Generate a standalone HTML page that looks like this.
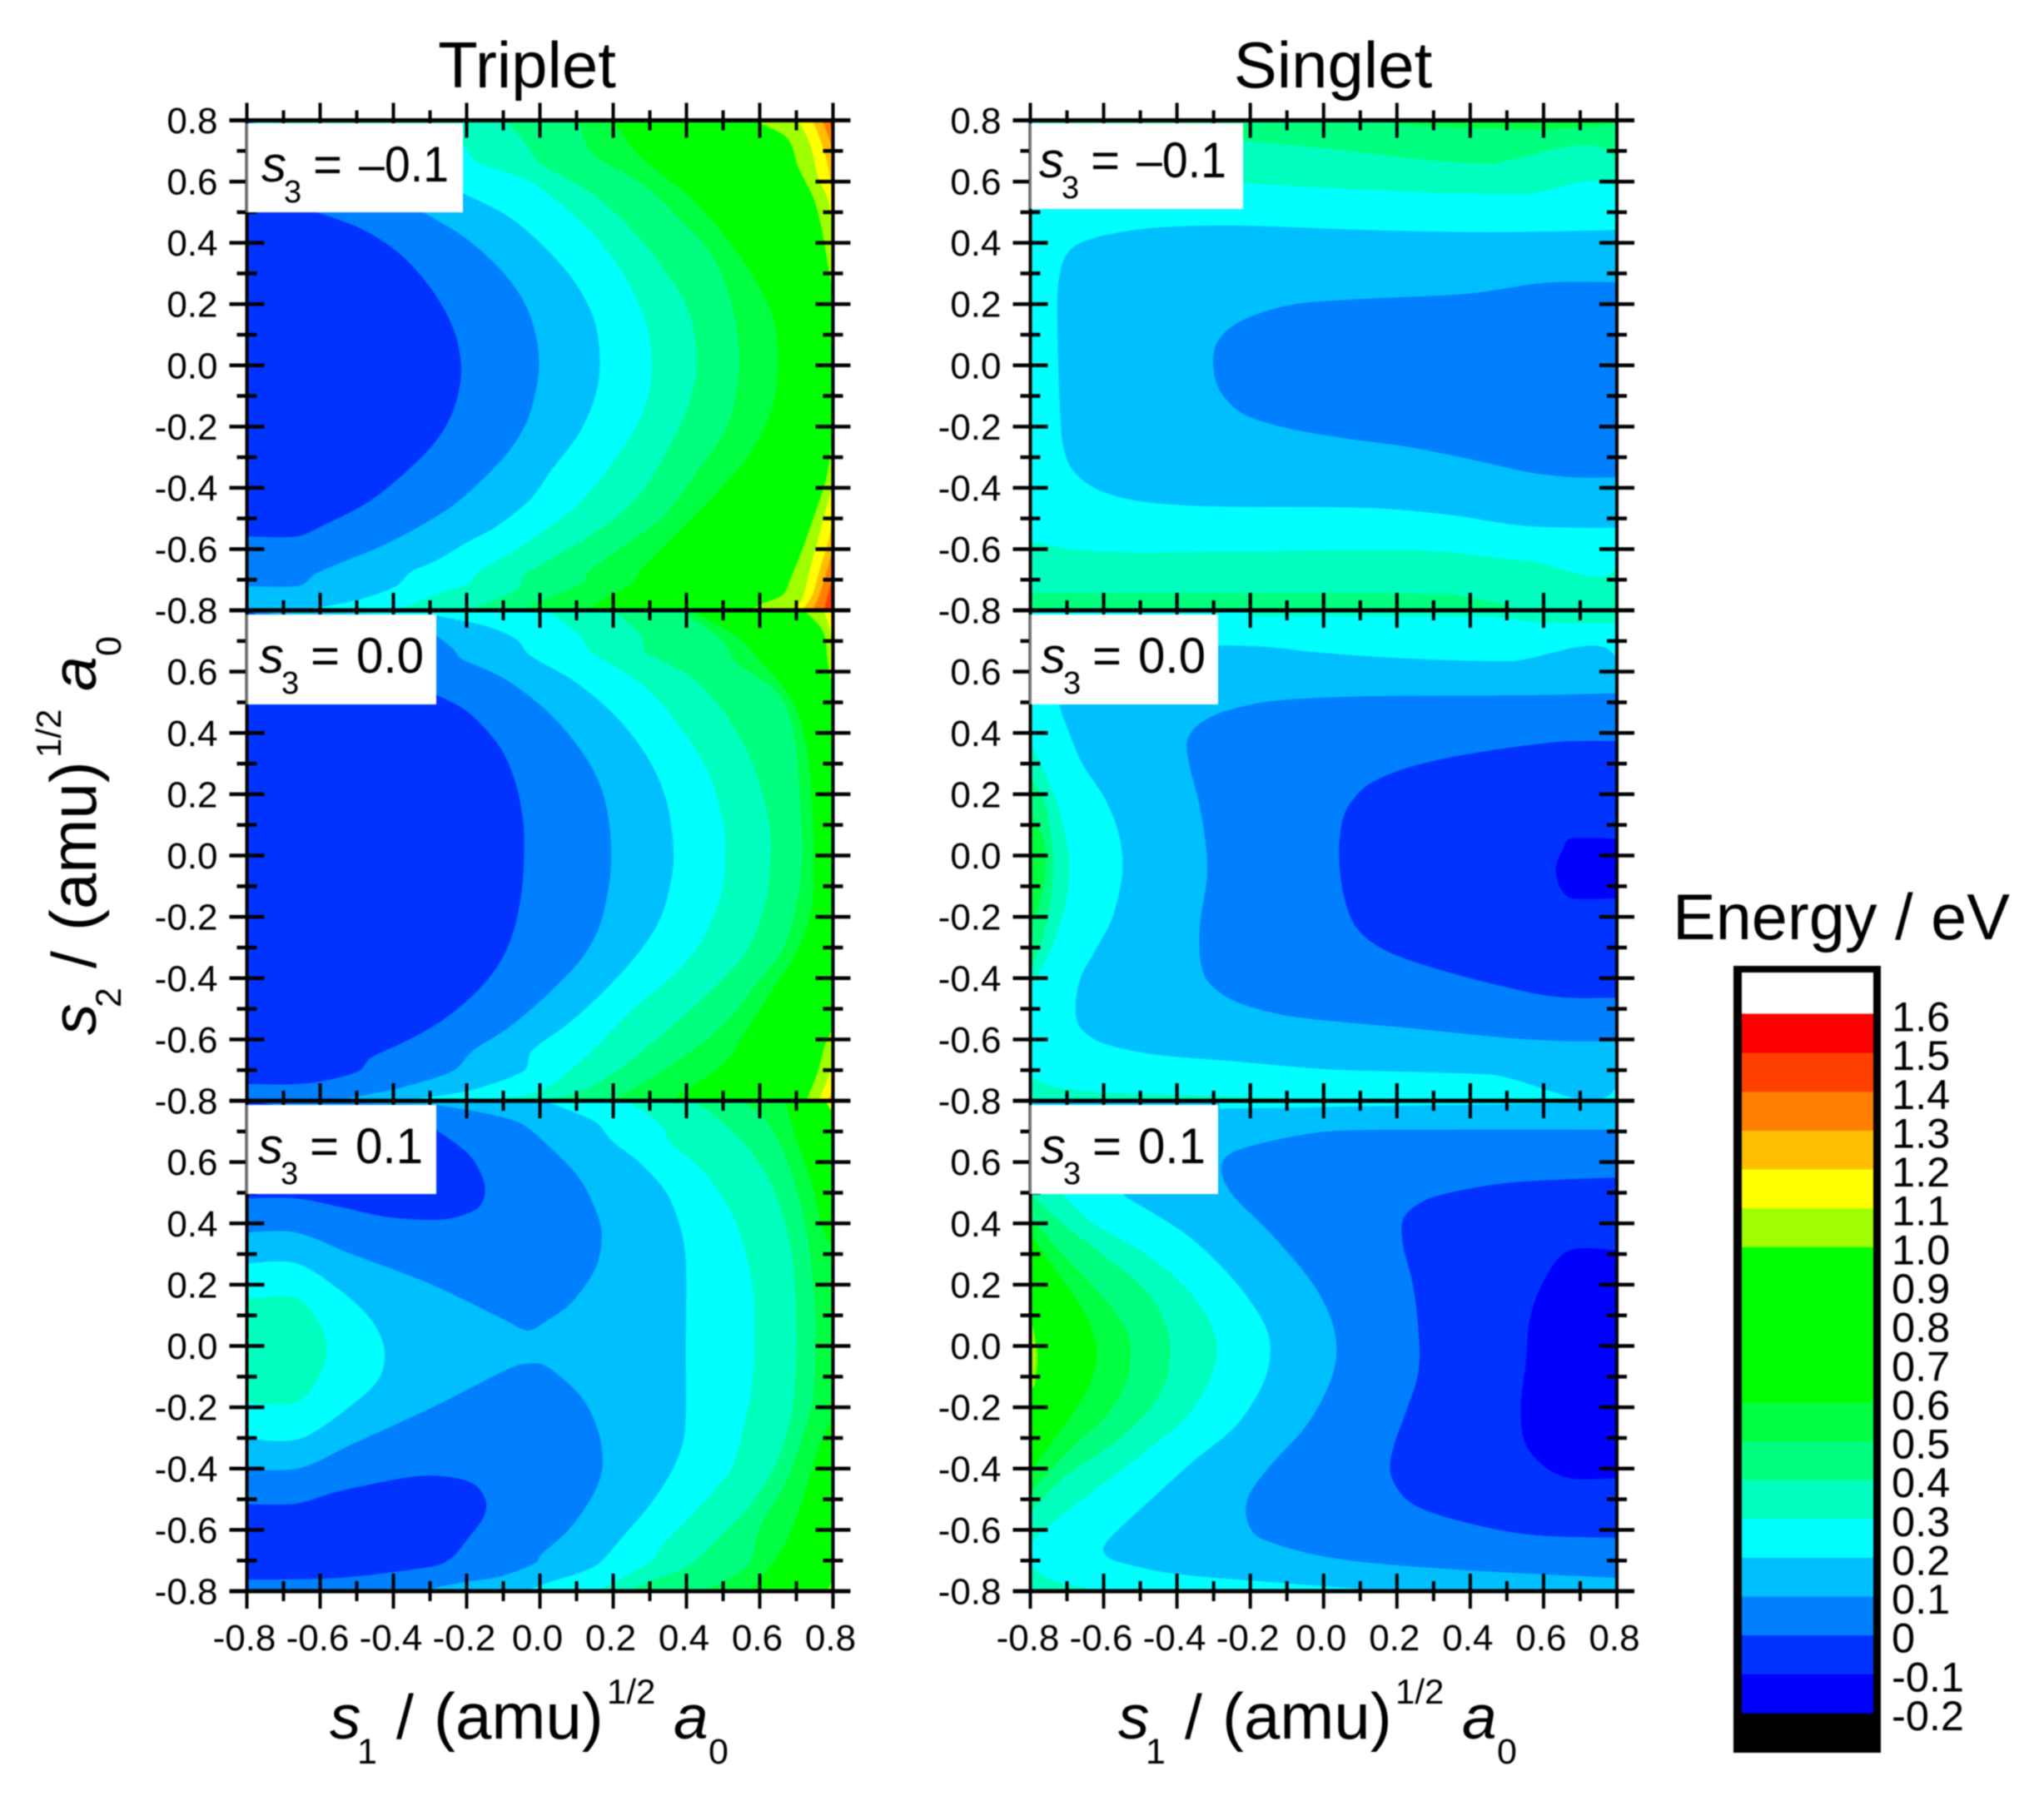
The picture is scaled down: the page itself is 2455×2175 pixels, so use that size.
<!DOCTYPE html>
<html lang="en">
<head>
<meta charset="utf-8">
<title>Triplet and Singlet energy contours</title>
<style>
html,body{margin:0;padding:0;background:#fff;}
svg{display:block;font-family:"Liberation Sans",sans-serif;filter:blur(0.7px);}
</style>
</head>
<body>
<svg id="figure" xmlns="http://www.w3.org/2000/svg" width="2455" height="2175" viewBox="0 0 2455 2175">
  <rect x="0" y="0" width="2455" height="2175" fill="#fff"/>
  <g id="panels"></g>
  <text x="633" y="105" font-size="78" text-anchor="middle">Triplet</text>
  <text x="1601" y="105" font-size="78" text-anchor="middle">Singlet</text>

  <g transform="translate(396,2088)">
    <text font-size="75"><tspan font-style="italic" x="0" y="0">s</tspan><tspan font-size="43" x="33" y="30">1</tspan><tspan x="80" y="0">/</tspan><tspan font-size="78" x="125" y="0">(amu)</tspan><tspan font-size="42" x="333" y="-42">1/2</tspan><tspan font-style="italic" x="413" y="0">a</tspan><tspan font-size="43" x="455" y="30">0</tspan></text>
  </g>
  <g transform="translate(1343,2088)">
    <text font-size="75"><tspan font-style="italic" x="0" y="0">s</tspan><tspan font-size="43" x="33" y="30">1</tspan><tspan x="80" y="0">/</tspan><tspan font-size="78" x="125" y="0">(amu)</tspan><tspan font-size="42" x="333" y="-42">1/2</tspan><tspan font-style="italic" x="413" y="0">a</tspan><tspan font-size="43" x="455" y="30">0</tspan></text>
  </g>
  <g transform="translate(115,1243) rotate(-90)">
    <text font-size="75"><tspan font-style="italic" x="0" y="0">s</tspan><tspan font-size="43" x="33" y="30">2</tspan><tspan x="80" y="0">/</tspan><tspan font-size="78" x="125" y="0">(amu)</tspan><tspan font-size="42" x="333" y="-42">1/2</tspan><tspan font-style="italic" x="413" y="0">a</tspan><tspan font-size="43" x="455" y="30">0</tspan></text>
  </g>

  <text x="2009" y="1128" font-size="77.5">Energy / eV</text>
  <g id="colorbar"></g>
</svg>

<script>
/* ---------- colour scale (lower bound of each energy band, eV) ---------- */
const bandLevels = [-0.2,-0.1,0,0.1,0.2,0.3,0.4,0.5,0.6,0.7,0.8,0.9,1.0,1.1,1.2,1.3,1.4,1.5];
const bandColors = ['#0000ff','#0033ff','#007fff','#00bfff','#00ffff','#00ffbf','#00ff7f','#00ff40','#00ff00','#00ff00','#00ff00','#00ff00','#9fff00','#ffff00','#ffbf00','#ff7f00','#ff4000','#ff0000'];
const colorbarTickValues = [1.6,1.5,1.4,1.3,1.2,1.1,1.0,0.9,0.8,0.7,0.6,0.5,0.4,0.3,0.2,0.1,0,-0.1,-0.2];
const colorbarTickLabels = ['1.6','1.5','1.4','1.3','1.2','1.1','1.0','0.9','0.8','0.7','0.6','0.5','0.4','0.3','0.2','0.1','0','-0.1','-0.2'];

/* ---------- axis ticks ---------- */
const majorTicks = [-0.8,-0.6,-0.4,-0.2,0,0.2,0.4,0.6,0.8];
const minorTicks = [-0.7,-0.5,-0.3,-0.1,0.1,0.3,0.5,0.7];
const LEFT = [[-0.8,-0.8],[-0.8,0.8]];
const TL = [[-0.8,0.8]];
const TR = [[0.8,0.8]];
const BR = [[0.8,-0.8]];
const BL = [[-0.8,-0.8]];

/* ---------- contour regions in data units (s1, s2); painted in order ---------- */
const tripletMinus = [
 {band:0.5,curve:[[0.2,0.8],[0.267,0.69],[0.427,0.529],[0.545,0.357],[0.631,0.174],[0.65,0.002],[0.631,-0.148],[0.567,-0.299],[0.481,-0.417],[0.374,-0.546],[0.276,-0.665],[0.253,-0.71],[0.185,-0.756],[0.124,-0.8]],close:LEFT},
 {band:0.4,curve:[[0.106,0.8],[0.143,0.69],[0.277,0.594],[0.374,0.486],[0.47,0.357],[0.524,0.196],[0.543,0.002],[0.513,-0.191],[0.438,-0.331],[0.336,-0.493],[0.223,-0.593],[0.132,-0.674],[0.117,-0.71],[-0.005,-0.774],[-0.042,-0.8]],close:LEFT},
 {band:0.3,curve:[[-0.098,0.8],[-0.039,0.723],[-0.001,0.658],[0.127,0.572],[0.234,0.465],[0.331,0.325],[0.406,0.174],[0.427,0.002],[0.406,-0.127],[0.352,-0.267],[0.261,-0.438],[0.147,-0.547],[0.033,-0.629],[-0.042,-0.683],[-0.06,-0.728],[-0.194,-0.8]],close:LEFT},
 {band:0.2,curve:[[-0.21,0.723],[-0.173,0.663],[-0.034,0.604],[0.052,0.529],[0.149,0.422],[0.234,0.282],[0.288,0.142],[0.304,0.002],[0.288,-0.127],[0.234,-0.256],[0.117,-0.438],[0.033,-0.52],[-0.08,-0.61],[-0.171,-0.674],[-0.194,-0.71],[-0.285,-0.747],[-0.391,-0.8]],close:LEFT},
 {band:0.1,curve:[[-0.21,0.561],[-0.087,0.486],[0.009,0.389],[0.095,0.271],[0.149,0.142],[0.163,0.002],[0.149,-0.105],[0.106,-0.223],[0.031,-0.342],[-0.027,-0.438],[-0.118,-0.525],[-0.194,-0.574],[-0.285,-0.638],[-0.353,-0.674],[-0.391,-0.719],[-0.482,-0.76],[-0.592,-0.787],[-0.671,-0.796],[-0.8,-0.8]],close:TL},
 {band:0,curve:[[-0.323,0.502],[-0.205,0.416],[-0.109,0.314],[-0.044,0.207],[-0.012,0.099],[-0.003,0.002],[-0.012,-0.084],[-0.039,-0.191],[-0.098,-0.299],[-0.217,-0.438],[-0.308,-0.511],[-0.421,-0.583],[-0.512,-0.629],[-0.611,-0.679],[-0.656,-0.719],[-0.8,-0.721]],close:TL},
 {band:-0.1,curve:[[-0.618,0.502],[-0.484,0.443],[-0.377,0.357],[-0.291,0.239],[-0.237,0.12],[-0.216,0.002],[-0.226,-0.105],[-0.259,-0.202],[-0.323,-0.299],[-0.459,-0.438],[-0.595,-0.524],[-0.664,-0.558],[-0.8,-0.558]],close:TL},
 {band:1.0,curve:[[0.58,0.8],[0.674,0.744],[0.706,0.647],[0.749,0.54],[0.77,0.443],[0.787,0.325],[0.8,0.239]],close:TR},
 {band:1.0,curve:[[0.8,-0.234],[0.781,-0.374],[0.749,-0.492],[0.717,-0.6],[0.685,-0.696],[0.663,-0.75],[0.599,-0.782],[0.578,-0.8]],close:BR},
 {band:1.1,curve:[[0.705,0.8],[0.738,0.723],[0.76,0.615],[0.787,0.54],[0.8,0.432]],close:TR},
 {band:1.1,curve:[[0.8,-0.396],[0.781,-0.471],[0.76,-0.567],[0.738,-0.664],[0.717,-0.761],[0.69,-0.8]],close:BR},
 {band:1.2,curve:[[0.745,0.8],[0.77,0.723],[0.787,0.647],[0.8,0.54]],close:TR},
 {band:1.2,curve:[[0.8,-0.503],[0.787,-0.578],[0.765,-0.664],[0.744,-0.75],[0.717,-0.8]],close:BR},
 {band:1.3,curve:[[0.77,0.8],[0.792,0.733],[0.8,0.65]],close:TR},
 {band:1.3,curve:[[0.8,-0.6],[0.781,-0.685],[0.76,-0.76],[0.744,-0.8]],close:BR},
 {band:1.4,curve:[[0.79,0.8],[0.8,0.75]],close:TR},
 {band:1.4,curve:[[0.8,-0.69],[0.787,-0.75],[0.775,-0.8]],close:BR}
];

const tripletZero = [
 {band:0.5,curve:[[0.41,0.8],[0.535,0.717],[0.588,0.653],[0.685,0.513],[0.728,0.352],[0.744,0.137],[0.747,-0.003],[0.739,-0.186],[0.695,-0.326],[0.631,-0.444],[0.556,-0.584],[0.502,-0.68],[0.395,-0.766],[0.363,-0.8]],close:LEFT},
 {band:0.4,curve:[[0.385,0.8],[0.502,0.695],[0.534,0.631],[0.652,0.524],[0.695,0.384],[0.711,0.137],[0.715,-0.003],[0.701,-0.154],[0.663,-0.304],[0.588,-0.422],[0.502,-0.551],[0.374,-0.67],[0.245,-0.766],[0.192,-0.8]],close:LEFT},
 {band:0.3,curve:[[0.2,0.8],[0.277,0.717],[0.288,0.663],[0.417,0.577],[0.513,0.448],[0.588,0.276],[0.625,0.104],[0.629,-0.003],[0.615,-0.154],[0.567,-0.304],[0.492,-0.411],[0.374,-0.541],[0.245,-0.67],[0.117,-0.766],[-0.001,-0.8]],close:LEFT},
 {band:0.2,curve:[[0.02,0.8],[0.108,0.717],[0.14,0.663],[0.279,0.556],[0.376,0.427],[0.461,0.266],[0.499,0.104],[0.505,-0.003],[0.492,-0.132],[0.438,-0.282],[0.363,-0.39],[0.256,-0.498],[0.12,-0.66],[-0.001,-0.766],[-0.173,-0.8]],close:LEFT},
 {band:0.1,curve:[[-0.283,0.782],[-0.151,0.749],[-0.066,0.706],[-0.028,0.653],[0.095,0.567],[0.202,0.459],[0.288,0.33],[0.342,0.19],[0.363,0.04],[0.361,-0.057],[0.331,-0.197],[0.277,-0.304],[0.191,-0.422],[0.084,-0.541],[-0.023,-0.637],[-0.044,-0.702],[-0.194,-0.766],[-0.387,-0.8]],close:LEFT},
 {band:0,curve:[[-0.283,0.717],[-0.237,0.674],[-0.216,0.642],[-0.098,0.577],[0.02,0.47],[0.106,0.352],[0.159,0.244],[0.186,0.126],[0.194,-0.003],[0.186,-0.111],[0.159,-0.24],[0.106,-0.347],[0.009,-0.465],[-0.087,-0.562],[-0.184,-0.637],[-0.237,-0.702],[-0.377,-0.756],[-0.484,-0.782],[-0.57,-0.8]],close:LEFT},
 {band:-0.1,curve:[[-0.283,0.524],[-0.194,0.465],[-0.109,0.352],[-0.066,0.233],[-0.046,0.104],[-0.044,-0.003],[-0.05,-0.111],[-0.071,-0.24],[-0.109,-0.347],[-0.173,-0.444],[-0.27,-0.54],[-0.366,-0.605],[-0.462,-0.659],[-0.494,-0.702],[-0.58,-0.732],[-0.666,-0.745],[-0.8,-0.745]],close:TL},
 {band:1.0,curve:[[0.72,0.8],[0.738,0.782],[0.77,0.739],[0.781,0.696],[0.787,0.62],[0.8,0.55]],close:TR},
 {band:1.0,curve:[[0.8,-0.562],[0.776,-0.627],[0.76,-0.702],[0.728,-0.8]],close:BR},
 {band:1.1,curve:[[0.775,0.8],[0.792,0.74],[0.8,0.68]],close:TR},
 {band:1.1,curve:[[0.8,-0.68],[0.781,-0.745],[0.76,-0.8]],close:BR},
 {band:1.2,curve:[[0.8,-0.76],[0.787,-0.8]],close:BR}
];

const tripletPlus = [
 {band:0.5,curve:[[0.67,0.8],[0.695,0.689],[0.738,0.549],[0.77,0.388],[0.8,0.291],[0.8,-0.205],[0.76,-0.334],[0.706,-0.539],[0.663,-0.657],[0.599,-0.765],[0.567,-0.8]],close:LEFT},
 {band:0.4,curve:[[0.55,0.8],[0.62,0.732],[0.685,0.57],[0.728,0.366],[0.749,0.151],[0.751,-0.011],[0.744,-0.172],[0.706,-0.334],[0.663,-0.463],[0.599,-0.592],[0.572,-0.707],[0.496,-0.77],[0.443,-0.8]],close:LEFT},
 {band:0.3,curve:[[0.42,0.8],[0.535,0.689],[0.631,0.528],[0.685,0.312],[0.698,0.097],[0.698,-0.065],[0.685,-0.226],[0.642,-0.388],[0.567,-0.528],[0.48,-0.635],[0.405,-0.716],[0.314,-0.761],[0.238,-0.8]],close:LEFT},
 {band:0.2,curve:[[0.234,0.8],[0.33,0.721],[0.352,0.668],[0.46,0.549],[0.535,0.398],[0.578,0.204],[0.584,-0.001],[0.572,-0.172],[0.526,-0.39],[0.481,-0.462],[0.405,-0.562],[0.33,-0.653],[0.306,-0.698],[0.23,-0.752],[0.155,-0.8]],close:LEFT},
 {band:0.1,curve:[[0.01,0.8],[0.149,0.732],[0.197,0.668],[0.277,0.592],[0.352,0.484],[0.395,0.312],[0.397,-0.011],[0.395,-0.28],[0.367,-0.39],[0.306,-0.508],[0.23,-0.616],[0.163,-0.707],[0.109,-0.739],[0.026,-0.77],[-0.042,-0.8]],close:LEFT},
 {band:0,curve:[[-0.283,0.786],[-0.151,0.759],[-0.055,0.727],[0.009,0.668],[0.106,0.549],[0.159,0.42],[0.168,0.344],[0.149,0.248],[0.084,0.14],[0.009,0.075],[-0.034,0.051],[-0.087,0.08],[-0.301,0.204],[-0.516,0.301],[-0.666,0.371],[-0.8,0.371]],close:TL},
 {band:0,curve:[[-0.8,-0.404],[-0.655,-0.399],[-0.516,-0.323],[-0.301,-0.205],[-0.087,-0.076],[-0.044,-0.06],[0.004,-0.06],[0.052,-0.097],[0.116,-0.172],[0.159,-0.28],[0.17,-0.39],[0.147,-0.48],[0.079,-0.598],[0.003,-0.68],[-0.012,-0.707],[-0.11,-0.752],[-0.209,-0.77],[-0.284,-0.788],[-0.315,-0.8]],close:BL},
 {band:-0.1,curve:[[-0.283,0.705],[-0.194,0.624],[-0.157,0.549],[-0.151,0.495],[-0.173,0.447],[-0.259,0.414],[-0.409,0.42],[-0.537,0.452],[-0.666,0.482],[-0.8,0.482]],close:TL},
 {band:-0.1,curve:[[-0.8,-0.517],[-0.666,-0.515],[-0.565,-0.48],[-0.466,-0.453],[-0.338,-0.426],[-0.247,-0.428],[-0.178,-0.453],[-0.148,-0.508],[-0.156,-0.562],[-0.201,-0.634],[-0.239,-0.689],[-0.284,-0.716],[-0.413,-0.739],[-0.565,-0.757],[-0.8,-0.762]],close:[]},
 {band:0.2,curve:[[-0.8,0.269],[-0.666,0.269],[-0.548,0.183],[-0.462,0.086],[-0.425,-0.011],[-0.441,-0.108],[-0.516,-0.194],[-0.655,-0.302],[-0.8,-0.302]],close:[]},
 {band:0.3,curve:[[-0.8,0.155],[-0.666,0.156],[-0.602,0.075],[-0.582,-0.011],[-0.602,-0.097],[-0.666,-0.185],[-0.8,-0.185]],close:[]},
 {band:1.0,curve:[[0.8,-0.76],[0.785,-0.8]],close:BR},
 {band:1.1,curve:[[0.8,0.8],[0.78,0.8]],close:[[0.8,0.76]]}
];

const singletMinus = [
 {band:0.5,curve:[[0.125,0.8],[0.286,0.782],[0.607,0.771],[0.8,0.79]],close:TR},
 {band:0.3,curve:[[-0.22,0.733],[0.018,0.706],[0.286,0.669],[0.447,0.658],[0.8,0.658],[0.8,-0.767],[0.414,-0.761],[0.34,-0.745],[-0.8,-0.742]],close:TL},
 {band:0.2,curve:[[-0.22,0.594],[0.018,0.578],[0.34,0.561],[0.554,0.559],[0.8,0.561],[0.8,-0.648],[0.554,-0.637],[0.286,-0.605],[-0.089,-0.605],[-0.518,-0.61],[-0.679,-0.6],[-0.8,-0.576]],close:TL},
 {band:0.1,curve:[[0.8,0.441],[0.447,0.434],[0.125,0.441],[-0.25,0.456],[-0.464,0.448],[-0.604,0.422],[-0.679,0.389],[-0.711,0.336],[-0.725,0.239],[-0.725,0.11],[-0.72,-0.105],[-0.711,-0.256],[-0.684,-0.342],[-0.615,-0.406],[-0.497,-0.444],[-0.304,-0.46],[0.125,-0.465],[0.34,-0.487],[0.554,-0.524],[0.8,-0.53]],close:[]},
 {band:0,curve:[[0.8,0.271],[0.607,0.269],[0.393,0.233],[0.125,0.217],[-0.068,0.201],[-0.175,0.169],[-0.25,0.126],[-0.293,0.067],[-0.3,-0.008],[-0.282,-0.084],[-0.218,-0.159],[-0.089,-0.207],[0.072,-0.24],[0.232,-0.266],[0.393,-0.304],[0.554,-0.347],[0.683,-0.365],[0.8,-0.365]],close:[]}
];

const singletZero = [
 {band:0.3,curve:[[-0.196,0.782],[0.447,0.78],[0.59,0.76],[0.8,0.758]],close:[[0.8,0.8],[-0.196,0.8]]},
 {band:0.3,curve:[[-0.8,-0.723],[-0.732,-0.755],[-0.604,-0.772],[-0.196,-0.788],[0.018,-0.8]],close:BL},
 {band:0.3,curve:[[-0.8,0.367],[-0.765,0.282],[-0.722,0.153],[-0.695,-0.003],[-0.7,-0.132],[-0.732,-0.272],[-0.775,-0.38],[-0.8,-0.433]],close:[]},
 {band:0.4,curve:[[-0.8,0.255],[-0.76,0.169],[-0.738,-0.003],[-0.743,-0.132],[-0.765,-0.262],[-0.8,-0.37]],close:[]},
 {band:0.5,curve:[[-0.8,0.137],[-0.765,0.053],[-0.759,-0.046],[-0.775,-0.154],[-0.8,-0.24]],close:[]},
 {band:0.1,curve:[[-0.285,0.685],[-0.153,0.68],[-0.025,0.663],[0.232,0.642],[0.5,0.633],[0.8,0.633],[0.8,-0.743],[0.447,-0.713],[0.018,-0.697],[-0.25,-0.67],[-0.464,-0.648],[-0.604,-0.611],[-0.663,-0.562],[-0.676,-0.498],[-0.663,-0.401],[-0.625,-0.315],[-0.577,-0.207],[-0.552,-0.089],[-0.548,-0.014],[-0.561,0.083],[-0.598,0.19],[-0.657,0.298],[-0.695,0.405],[-0.72,0.491],[-0.732,0.62]],close:[]},
 {band:0,curve:[[0.8,0.529],[0.554,0.522],[0.125,0.519],[-0.143,0.503],[-0.282,0.465],[-0.346,0.421],[-0.372,0.373],[-0.366,0.298],[-0.339,0.169],[-0.32,0.029],[-0.318,-0.078],[-0.336,-0.218],[-0.336,-0.336],[-0.314,-0.412],[-0.239,-0.476],[-0.089,-0.524],[0.232,-0.562],[0.5,-0.594],[0.661,-0.605],[0.8,-0.605]],close:[]},
 {band:-0.1,curve:[[0.8,0.373],[0.639,0.37],[0.393,0.33],[0.232,0.287],[0.125,0.233],[0.072,0.169],[0.05,0.104],[0.043,-0.003],[0.056,-0.132],[0.093,-0.24],[0.179,-0.315],[0.34,-0.38],[0.554,-0.444],[0.661,-0.463],[0.8,-0.463]],close:[]},
 {band:-0.2,curve:[[0.8,0.054],[0.672,0.054],[0.65,0.013],[0.634,-0.04],[0.645,-0.104],[0.677,-0.139],[0.8,-0.139]],close:[]}
];

const singletPlus = [
 {band:0.2,curve:[[-0.283,0.775],[0.8,0.795]],close:[[0.8,0.8],[-0.283,0.8]]},
 {band:0.2,curve:[[-0.54,0.486],[-0.368,0.357],[-0.239,0.206],[-0.164,0.076],[-0.146,-0.011],[-0.164,-0.119],[-0.239,-0.259],[-0.357,-0.377],[-0.486,-0.517],[-0.582,-0.625],[-0.602,-0.668],[-0.572,-0.7],[-0.411,-0.743],[-0.089,-0.776],[0.179,-0.8]],close:LEFT},
 {band:0.3,curve:[[-0.8,-0.714],[-0.743,-0.763],[-0.615,-0.8]],close:BL},
 {band:0.3,curve:[[-0.711,0.495],[-0.625,0.398],[-0.486,0.301],[-0.379,0.194],[-0.314,0.086],[-0.291,-0.011],[-0.314,-0.119],[-0.379,-0.237],[-0.475,-0.334],[-0.593,-0.442],[-0.689,-0.528],[-0.765,-0.603],[-0.8,-0.645]],close:TL},
 {band:0.4,curve:[[-0.8,0.495],[-0.711,0.398],[-0.593,0.29],[-0.486,0.183],[-0.432,0.075],[-0.419,-0.011],[-0.432,-0.119],[-0.496,-0.237],[-0.593,-0.334],[-0.7,-0.42],[-0.8,-0.539]],close:[]},
 {band:0.5,curve:[[-0.8,0.42],[-0.722,0.312],[-0.604,0.161],[-0.539,0.054],[-0.527,-0.022],[-0.539,-0.119],[-0.593,-0.226],[-0.679,-0.323],[-0.8,-0.474]],close:[]},
 {band:0.6,curve:[[-0.8,0.366],[-0.732,0.247],[-0.657,0.118],[-0.62,-0.011],[-0.636,-0.119],[-0.689,-0.226],[-0.8,-0.409]],close:[]},
 {band:1.0,curve:[[-0.8,0.097],[-0.786,0.011],[-0.781,-0.043],[-0.789,-0.129],[-0.8,-0.14]],close:[]},
 {band:0,curve:[[0.8,0.705],[0.34,0.705],[0.018,0.7],[-0.143,0.668],[-0.25,0.63],[-0.28,0.581],[-0.25,0.496],[-0.143,0.366],[-0.036,0.215],[0.018,0.097],[0.036,-0.011],[0.018,-0.119],[-0.046,-0.259],[-0.143,-0.388],[-0.202,-0.485],[-0.21,-0.56],[-0.175,-0.625],[0.018,-0.69],[0.34,-0.727],[0.8,-0.756]],close:[]},
 {band:-0.1,curve:[[0.8,0.549],[0.5,0.531],[0.297,0.484],[0.222,0.424],[0.216,0.338],[0.243,0.206],[0.259,0.055],[0.259,-0.085],[0.222,-0.226],[0.19,-0.334],[0.184,-0.42],[0.232,-0.506],[0.34,-0.56],[0.554,-0.614],[0.8,-0.625]],close:[]},
 {band:-0.2,curve:[[0.8,0.312],[0.672,0.312],[0.607,0.226],[0.565,0.097],[0.551,-0.065],[0.538,-0.205],[0.549,-0.313],[0.597,-0.388],[0.672,-0.431],[0.8,-0.431]],close:[]}
];

/* ---------- panel definitions ---------- */
const panelNames = ['triplet-s3-minus','triplet-s3-zero','triplet-s3-plus','singlet-s3-minus','singlet-s3-zero','singlet-s3-plus'];
const panelContours = [tripletMinus,tripletZero,tripletPlus,singletMinus,singletZero,singletPlus];
const panelBaseBands = [0.6,0.6,0.6,0.4,0.2,0.1];
const panelS3Labels = ['–0.1','0.0','0.1','–0.1','0.0','0.1'];

const SVGNS = 'http://www.w3.org/2000/svg';
const panelRoot = document.getElementById('panels');
const defs = document.createElementNS(SVGNS,'defs');
panelRoot.appendChild(defs);

const colLeft = [296.5,296.5,296.5,1237.5,1237.5,1237.5];
const colWidth = [704,704,704,704.5,704.5,704.5];
const rowTop = [144.5,733,1322,144.5,733,1322];
const rowHeight = [588.5,589,589,588.5,589,589];
const boxRight = [556,524,524,1493,1463,1463];
const boxTop = [148,738,1327,148,738,1327];
const boxBottom = [255,846,1434,251,846,1434];
const textLeft = [314,311,310,1248,1250,1250];
const textBase = [218,808,1397,213,808,1397];

function make(tag,attrs,parent){
  const el = document.createElementNS(SVGNS,tag);
  for(const k in attrs){ el.setAttribute(k,attrs[k]); }
  parent.appendChild(el);
  return el;
}
function bandColor(v){
  let idx = 0;
  for(let i=0;i<bandLevels.length;i++){ if(v >= bandLevels[i]-1e-6){ idx = i; } }
  return bandColors[idx];
}
function limitHandle(dx,dy,maxLen){
  const len = Math.hypot(dx,dy);
  if(len<=maxLen || len===0){ return [dx,dy]; }
  return [dx*maxLen/len,dy*maxLen/len];
}
function smoothPath(points){
  let d = 'M'+points[0][0].toFixed(1)+' '+points[0][1].toFixed(1);
  for(let i=0;i<points.length-1;i++){
    const p0 = points[Math.max(i-1,0)], p1 = points[i], p2 = points[i+1], p3 = points[Math.min(i+2,points.length-1)];
    const seg = Math.hypot(p2[0]-p1[0],p2[1]-p1[1])/3;
    const h1 = limitHandle((p2[0]-p0[0])/6,(p2[1]-p0[1])/6,seg);
    const h2 = limitHandle((p3[0]-p1[0])/6,(p3[1]-p1[1])/6,seg);
    const c1x = p1[0]+h1[0], c1y = p1[1]+h1[1];
    const c2x = p2[0]-h2[0], c2y = p2[1]-h2[1];
    d += 'C'+c1x.toFixed(1)+' '+c1y.toFixed(1)+' '+c2x.toFixed(1)+' '+c2y.toFixed(1)+' '+p2[0].toFixed(1)+' '+p2[1].toFixed(1);
  }
  return d;
}

panelNames.forEach(function(name,p){
  const L = colLeft[p], W = colWidth[p], T = rowTop[p], H = rowHeight[p];
  const xScale = function(v){ return L+(v+0.8)/1.6*W; };
  const yScale = function(v){ return T+(0.8-v)/1.6*H; };
  const R = xScale(0.8), B = yScale(-0.8);
  const isBottom = p%3===2;
  const isTop = p%3===0;

  const g = document.createElementNS(SVGNS,'g');
  
  
  g.setAttribute('id', name);
  panelRoot.appendChild(g);

  const clip = make('clipPath',{id:'clip-'+name},defs);
  make('rect',{x:L,y:T,width:W,height:H},clip);

  const field = document.createElementNS(SVGNS,'g');
  
  
  field.setAttribute('clip-path', 'url(#clip-'+name+')');
  g.appendChild(field);

  const base = make('rect',{x:L,y:T,width:W,height:H,fill:bandColor(panelBaseBands[p])},field);
  
  

  panelContours[p].forEach(function(region){
    const pts = region.curve.map(function(c){ return [xScale(c[0]),yScale(c[1])]; });
    let d = smoothPath(pts);
    region.close.forEach(function(c){ d += 'L'+xScale(c[0]).toFixed(1)+' '+yScale(c[1]).toFixed(1); });
    d += 'Z';
    const path = make('path',{d:d,fill:bandColor(region.band),stroke:bandColor(region.band),'stroke-width':0.5},field);
    
    
  });

  /* frame verticals */
  const leftAxis = make('line',{x1:L,y1:T,x2:L,y2:B,stroke:'#000','stroke-width':4},g);
  
  
  const rightAxis = make('line',{x1:R,y1:T,x2:R,y2:B,stroke:'#000','stroke-width':4},g);
  
  

  /* y ticks */
  majorTicks.forEach(function(v){
    if(v===0.8||v===-0.8){ return; }
    const y = yScale(v);
    const t1 = make('line',{x1:L-21,y1:y,x2:L+21,y2:y,stroke:'#000','stroke-width':4.5},g);
    
    
    const t2 = make('line',{x1:R-21,y1:y,x2:R+21,y2:y,stroke:'#000','stroke-width':4.5},g);
    
    
  });
  minorTicks.forEach(function(v){
    const y = yScale(v);
    const t1 = make('line',{x1:L-12,y1:y,x2:L+12,y2:y,stroke:'#000','stroke-width':4.5},g);
    
    
    const t2 = make('line',{x1:R-12,y1:y,x2:R+12,y2:y,stroke:'#000','stroke-width':4.5},g);
    
    
  });

  /* horizontal axes and x ticks */
  [T,B].forEach(function(yy){
    const ax = make('line',{x1:L-21,y1:yy,x2:R+21,y2:yy,stroke:'#000','stroke-width':5},g);
    
    
    majorTicks.forEach(function(v){
      const x = xScale(v);
      const t = make('line',{x1:x,y1:yy-21,x2:x,y2:yy+21,stroke:'#000','stroke-width':4},g);
      
      
    });
    minorTicks.forEach(function(v){
      const x = xScale(v);
      const t = make('line',{x1:x,y1:yy-12,x2:x,y2:yy+12,stroke:'#000','stroke-width':4},g);
      
      
    });
  });

  /* y tick labels */
  majorTicks.forEach(function(v){
    if(v===0.8 && !isTop){ return; }
    const lbl = make('text',{x:L-35,y:yScale(v)+15.5,'font-size':44,'text-anchor':'end'},g);
    
    
    lbl.textContent = v.toFixed(1);
  });

  /* x tick labels */
  if(isBottom){
    majorTicks.forEach(function(v){
      const lbl = make('text',{x:xScale(v)-3,y:1982,'font-size':44,'text-anchor':'middle'},g);
      
      
      lbl.textContent = v.toFixed(1);
    });
  }

  /* s3 label box */
  const box = document.createElementNS(SVGNS,'g');
  
  
  g.appendChild(box);
  make('rect',{x:L-1.5,y:boxTop[p],width:boxRight[p]-L+1.5,height:boxBottom[p]-boxTop[p],fill:'#fff'},box);
  make('rect',{x:L-1.5,y:boxTop[p],width:3,height:boxBottom[p]-boxTop[p],fill:'#777'},box);
  const tx = textLeft[p], ty = textBase[p];
  const s = make('text',{x:tx,y:ty,'font-size':60,'font-style':'italic'},box);
  s.textContent = 's';
  const sub = make('text',{x:tx+27,y:ty+25,'font-size':38},box);
  sub.textContent = '3';
  const eq = make('text',{x:tx+62,y:ty,'font-size':60},box);
  eq.textContent = '=';
  const valueText = panelS3Labels[p];
  const val = make('text',{x:tx+117,y:ty,'font-size':60,textLength:valueText.charAt(0)==='–'?108:81,lengthAdjust:'spacingAndGlyphs'},box);
  val.textContent = valueText;
});

/* ---------- colour bar ---------- */
const cbRoot = document.getElementById('colorbar');
const cbX0 = 2092, cbX1 = 2250, cbTop = 1217.5, cbBottom = 2057;
function cbY(v){ return cbTop+(1.6-v)/1.8*(cbBottom-cbTop); }

const cbFrame = make('rect',{x:2082,y:1160,width:177,height:945,fill:'#000'},cbRoot);


const cbWhite = make('rect',{x:cbX0,y:1168,width:cbX1-cbX0,height:cbTop-1168,fill:'#fff'},cbRoot);



bandLevels.forEach(function(v,i){
  const yTop = cbY(v+0.1), yBot = cbY(v);
  const r = make('rect',{x:cbX0,y:yTop,width:cbX1-cbX0,height:yBot-yTop+0.5,fill:bandColors[i]},cbRoot);
  
  
});

colorbarTickValues.forEach(function(v,i){
  const t = make('text',{x:2272,y:cbY(v)+21,'font-size':50.5},cbRoot);
  
  
  t.textContent = colorbarTickLabels[i];
});
</script>
</body>
</html>
